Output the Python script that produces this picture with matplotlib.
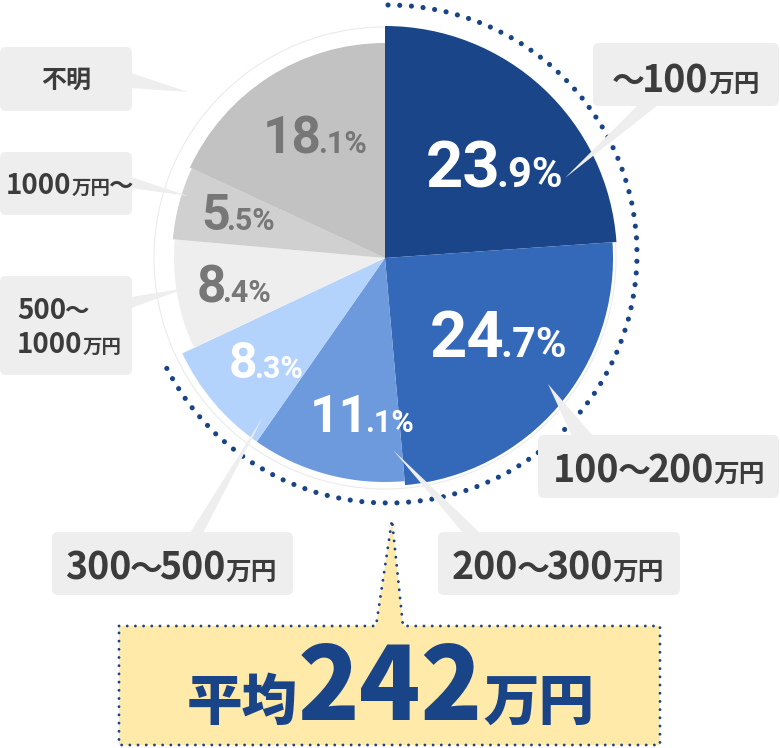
import re
import matplotlib
matplotlib.use("Agg")
import matplotlib.pyplot as plt
from matplotlib.patches import FancyBboxPatch, Polygon, Arc, Circle

# ---------------- data ----------------
categories = ["〜100万円", "100〜200万円", "200〜300万円", "300〜500万円",
              "500〜1000万円", "1000万円〜", "不明"]
shares = [23.9, 24.7, 11.1, 8.3, 8.4, 5.5, 18.1]
avg_prefix = "平均"
avg_value = 242
avg_unit = "万円"

# ---------------- style / layout ----------------
colors = ["#1a4589", "#3468b8", "#6d99dd", "#b3d3fc", "#eeeeee", "#d0d0d0", "#c2c2c2"]
radii = [232, 228, 224, 224, 211, 213, 215]
pct_color = ["white"] * 4 + ["#777777"] * 3
pct_pos = [(426, 187), (430, 357), (310, 432), (229, 378), (197, 302), (201, 230), (263, 153)]
pct_size = [(47, 30), (47, 30), (37, 22), (36, 22), (37, 22), (36, 22), (37, 22)]

NAVY = "#1a4488"
BOX = "#eeeeee"
TXT = "#3c3c3c"
JP = ["Noto Sans CJK JP", "DejaVu Sans"]
NUM = ["Roboto", "DejaVu Sans"]

# label boxes (x, y, w, h), text origin, sizes, pointer (base1, base2, tip)
label_layout = [
    dict(box=(593, 43, 186, 63), org=(614, 92), size=(27, 18.5),
         ptr=[(638, 105), (658, 105), (565, 178)]),
    dict(box=(538, 435, 241, 63), org=(553, 482), size=(27, 18.5),
         ptr=[(572, 436), (593, 436), (548, 384)]),
    dict(box=(438, 532, 242, 63), org=(452, 580), size=(27, 18.5),
         ptr=[(463, 533), (480, 533), (393, 450)]),
    dict(box=(52, 532, 241, 63), org=(65, 580), size=(27, 18.5),
         ptr=[(190, 533), (203, 533), (263, 417)]),
    dict(box=(0, 276, 132, 99), org=(17, 319), size=(20, 14),
         ptr=[(131, 297), (131, 308), (187, 288)], lines=True),
    dict(box=(0, 152, 132, 63), org=(6, 194), size=(20, 14),
         ptr=[(131, 177), (131, 188), (188, 196)]),
    dict(box=(0, 47, 132, 64), org=(66, 81), size=(18, 18),
         ptr=[(131, 73), (131, 88), (188, 92)], center=True),
]

fig = plt.figure(figsize=(7.8, 7.48), dpi=100)
ax = fig.add_axes([0, 0, 1, 1])
cx, cy = 385, 258

wedges, _ = ax.pie(shares, colors=colors, startangle=-90, counterclock=True,
                   radius=232, center=(cx, cy), wedgeprops=dict(linewidth=0),
                   frame=False)
for w, r in zip(wedges, radii):
    w.set_radius(r)
    w.set_zorder(2)

ax.set_xlim(0, 780)
ax.set_ylim(748, 0)
ax.set_aspect("auto")
ax.axis("off")

# faint outer circle
ax.add_patch(Circle((cx, cy), 231, fill=False, ec="#ebebeb", lw=0.8, zorder=1))

# dotted arc around the blue (income) slices
blue_total = sum(shares[:4])
arc = Arc((388, 254), 498, 498, theta1=-90, theta2=-90 + 360 * blue_total / 100,
          lw=3.7, ls=(0, (0.01, 2.27)), color=NAVY, zorder=3)
arc.set_capstyle("round")
ax.add_patch(arc)

renderer = fig.canvas.get_renderer()


def put_runs(x, y, runs, color, family, weight="bold", zorder=7):
    for item in runs:
        s, size = item[0], item[1]
        pre, post = (item[2] if len(item) > 2 else (0, 0))
        x += pre
        t = ax.text(x, y, s, fontsize=size, color=color, family=family,
                    weight=weight, ha="left", va="baseline", zorder=zorder)
        x += t.get_window_extent(renderer).width + post
    return x


def segs(text, big, small):
    out = []
    for p in re.split("(万円|〜)", text):
        if not p:
            continue
        if p == "万円":
            out.append((p, small))
        elif p == "〜":
            out.append((p, big * 0.88, (-2, -3)))
        else:
            out.append((p, big))
    return out


# label boxes with pointers
for cat, lay in zip(categories, label_layout):
    x, y, w, h = lay["box"]
    ax.add_patch(FancyBboxPatch((x, y), w, h, boxstyle="round,pad=0,rounding_size=6",
                                fc=BOX, ec="none", zorder=4))
    ax.add_patch(Polygon(lay["ptr"], closed=True, fc=BOX, ec="none", zorder=4))
    big, small = lay["size"]
    ox, oy = lay["org"]
    if lay.get("center"):
        ax.text(ox, oy, cat, fontsize=big, color=TXT, family=JP, weight="bold",
                ha="center", va="center", zorder=7)
    elif lay.get("lines"):
        a, b = cat.split("〜")
        put_runs(ox, oy, segs(a + "〜", big, small), TXT, JP)
        put_runs(ox, oy + 34, segs(b, big, small), TXT, JP)
    else:
        put_runs(ox, oy, segs(cat, big, small), TXT, JP)

# percentage labels in slices
for v, (px, py), (s1, s2), c in zip(shares, pct_pos, pct_size, pct_color):
    ip, dp = f"{v:.1f}".split(".")
    put_runs(px, py, [(ip, s1, (0, -4)), ("." + dp + "%", s2)], c, NUM)

# average callout
callout = Polygon([(119, 626), (376, 626), (392, 520), (403, 626), (660, 626),
                   (660, 745), (119, 745)], closed=True, fc="#ffeaa9", ec=NAVY,
                  lw=2.1, ls=(0, (0.01, 2.8)), zorder=4)
callout.set_capstyle("round")
callout.set_joinstyle("round")
ax.add_patch(callout)
put_runs(187, 720, [(avg_prefix, 40), (str(avg_value), 73), (avg_unit, 40)],
         NAVY, JP, weight="black")

fig.savefig("out.png", dpi=100)
